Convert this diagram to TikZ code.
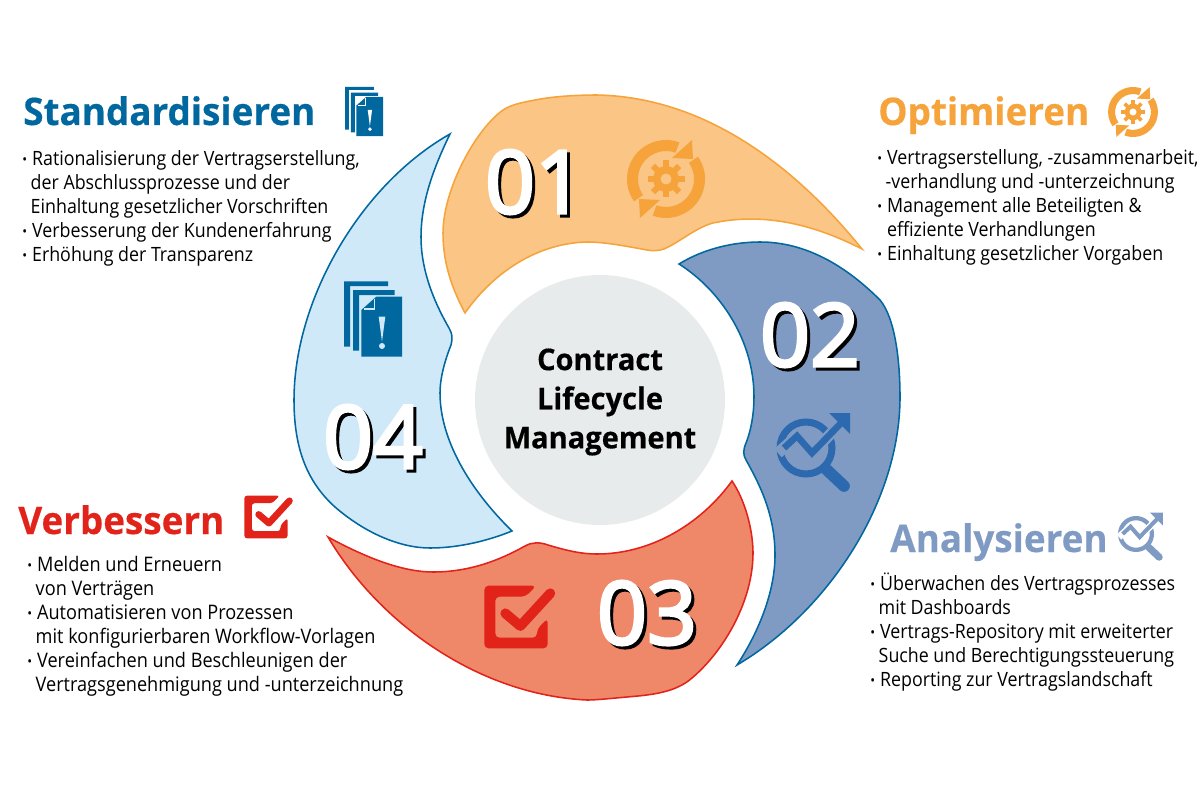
\documentclass[tikz,border=0pt]{standalone}
\usepackage{fontspec}
\setmainfont[FakeStretch=0.905]{Open Sans}
\newfontfamily\headfont[FakeStretch=0.97,FakeBold=0.4]{Open Sans}
\newfontfamily\numfont[FakeBold=3.5]{Open Sans}
\usetikzlibrary{calc}

\definecolor{optfill}{HTML}{FBC585}
\definecolor{optline}{HTML}{F5A33A}
\definecolor{anafill}{HTML}{7F9BC4}
\definecolor{analine}{HTML}{00679F}
\definecolor{anaicon}{HTML}{2D69AE}
\definecolor{verfill}{HTML}{EF8769}
\definecolor{verline}{HTML}{E2231A}
\definecolor{stdfill}{HTML}{CFE9F9}
\definecolor{stdline}{HTML}{00679F}
\definecolor{hubfill}{HTML}{E8EBEB}

\newcommand{\bul}{\makebox[7pt][l]{\raisebox{0.05em}{\fontsize{10}{10}\selectfont •}}}
\newcommand{\ind}[1]{\hspace*{#1pt}}

\tikzset{
	leaf/.style={line width=1.1pt,miter limit=12},
	listtext/.style={anchor=north west,inner sep=0pt,align=left,text=black,font=\fontsize{14}{17.07}\selectfont},
	headtext/.style={anchor=base west,inner sep=0pt,font=\fontsize{27}{30}\selectfont\headfont\bfseries},
	numface/.style={inner sep=0pt,text=white,font=\fontsize{62}{62}\selectfont\numfont},
	numshadow/.style={inner sep=0pt,text=black,font=\fontsize{62}{62}\selectfont\numfont},
	pics/gearcycle/.style n args={3}{code={
		\begin{scope}[scale=#3]
		\foreach \r in {0,180} {
			\fill[#1,rotate=\r] (145:39) arc[start angle=145,end angle=290,radius=39]
				-- (290:28) arc[start angle=290,end angle=145,radius=28] -- cycle;
			\fill[#1,rotate=\r] (26,-39) -- (27,-20) -- (6,-21) -- cycle;
		}
		\foreach \r in {0,45,...,315} {
			\fill[#1,rotate=\r] (-3,-18.5) rectangle (3,-11);
		}
		\fill[#1] (0,0) circle (13);
		\fill[#2] (0,0) circle (5.5);
		\end{scope}
	}},
	pics/lensicon/.style n args={3}{code={
		\begin{scope}[scale=#3]
		\draw[#1,line width=#3*5pt] (0,0) circle (26);
		\draw[#1,line width=#3*8.3pt,line cap=round] (21,22) -- (38,38);
		\draw[#2,line width=#3*8pt] (-28,5) -- (-9,-12) -- (6,5) -- (38,-28);
		\draw[#1,line width=#3*4.7pt] (-22,0) -- (-9,-12) -- (6,5) -- (38,-28);
		\fill[#1] (23,-35) -- (44,-35) -- (44,-14) -- cycle;
		\end{scope}
	}},
	pics/docicon/.style n args={3}{code={
		\begin{scope}[scale=#3]
		\fill[#1] (-29,-37.7) -- (15,-37.7) -- (15,-33) -- (-23,-33) -- (-23,27.7) -- (-29,27.7) -- cycle;
		\fill[#1] (-20,-29) -- (21.7,-29) -- (21.7,-24) -- (-14,-24) -- (-14,31.7) -- (-20,31.7) -- cycle;
		\fill[#1] (-11.7,-9) -- (3.3,-22.3) -- (29,-22.3) -- (29,37.7) -- (-11.7,37.7) -- cycle;
		\draw[#2,line width=#3*0.9pt] (-9.5,-10) -- (1.7,-10) -- (1.7,-20.5);
		\fill[#2] (5.7,-2.3) -- (12.3,-2.3) -- (9,22.7) -- cycle;
		\fill[#2] (9,27) circle (3);
		\end{scope}
	}},
	pics/checkicon/.style n args={2}{code={
		\begin{scope}[scale=#2]
		\fill[#1,rounded corners=#2*3pt] (20.3,-31.3) -- (-31.7,-31.3) -- (-31.7,31.3) -- (31.7,31.3) -- (31.7,1.3)
			-- (21,12.3) -- (21,20.7) -- (-20.7,20.7) -- (-20.7,-20.3) -- (9.3,-20.3) -- cycle;
		\draw[#1,line width=#2*7pt,line cap=round,line join=round] (-10.7,-3.7) -- (4.3,9) -- (34.3,-23.7);
		\end{scope}
	}},
}

\begin{document}
\begin{tikzpicture}[x=0.025cm,y=-0.025cm]

\useasboundingbox (0,0) rectangle (1200,800);

% the four leaves
\draw[leaf,draw=optline,fill=optfill] (465,313)
	.. controls (450,285) and (443,260) .. (443,233)
	.. controls (443,190) and (475,130) .. (503,110)
	.. controls (512,104) and (525,102) .. (535,100)
	.. controls (555,96) and (580,95) .. (597,95)
	.. controls (700,97) and (790,160) .. (862,249)
	.. controls (815,225) and (765,212) .. (713,223)
	.. controls (695,228) and (680,242) .. (664,249)
	.. controls (658,251) and (652,251) .. (647,250)
	.. controls (625,246) and (605,242) .. (587,242)
	.. controls (540,243) and (495,270) .. (465,313) -- cycle;
\draw[leaf,draw=analine,fill=anafill] (679,264)
	.. controls (705,248) and (735,242) .. (760,242)
	.. controls (805,242) and (845,265) .. (880,300)
	.. controls (895,318) and (900,360) .. (900,397)
	.. controls (900,500) and (830,610) .. (737,665)
	.. controls (760,630) and (775,590) .. (775,555)
	.. controls (775,515) and (760,485) .. (746,460)
	.. controls (743,455) and (743,450) .. (746,443)
	.. controls (752,428) and (754,410) .. (754,397)
	.. controls (754,340) and (720,290) .. (679,264) -- cycle;
\draw[leaf,draw=verline,fill=verfill] (732,481)
	.. controls (745,500) and (753,530) .. (753,553)
	.. controls (753,600) and (725,650) .. (692,678)
	.. controls (675,693) and (650,695) .. (627,697)
	.. controls (605,699) and (595,700) .. (587,700)
	.. controls (480,695) and (380,625) .. (328,537)
	.. controls (370,560) and (405,572) .. (433,572)
	.. controls (470,572) and (500,560) .. (525,546)
	.. controls (532,542) and (540,542) .. (548,545)
	.. controls (565,550) and (580,554) .. (597,554)
	.. controls (650,554) and (700,525) .. (732,481) -- cycle;
\draw[leaf,draw=stdline,fill=stdfill] (450,134)
	.. controls (360,185) and (294,300) .. (294,400)
	.. controls (294,445) and (305,480) .. (335,507)
	.. controls (365,533) and (400,548) .. (430,548)
	.. controls (460,548) and (490,540) .. (512,531)
	.. controls (470,490) and (440,440) .. (440,393)
	.. controls (440,375) and (447,355) .. (451,345)
	.. controls (453,338) and (452,333) .. (449,328)
	.. controls (430,295) and (421,265) .. (421,237)
	.. controls (421,200) and (435,165) .. (450,134) -- cycle;

% hub
\node[circle,fill=hubfill,minimum size=250*0.025cm,inner sep=0pt] (hub) at (600,400) {};
\node[align=center,inner sep=0pt,font=\fontsize{21.3}{27.8}\selectfont\headfont\bfseries] (hubtext) at (600,402) {Contract\\Lifecycle\\Management};

% numbers
\foreach \txt/\x/\y in {01/535/182,02/810/335,03/647/613,04/373/437} {
	\node[numshadow] (s\txt) at (\x+3,\y+3) {\txt};
	\node[numface] (n\txt) at (\x,\y) {\txt};
}

% icons in the leaves
\pic at (666,179) {gearcycle={optline}{optfill}{1}};
\pic at (806,448) {lensicon={anaicon}{anafill}{1}};
\pic at (516,617) {checkicon={verline}{1}};
\pic at (373,319) {docicon={stdline}{stdfill}{1}};

% headings
\node[headtext,text=stdline] (stdhead) at (23,125) {Standardisieren};
\node[headtext,text=optline] (opthead) at (878,125) {Optimieren};
\node[headtext,text=anafill] (anahead) at (890,552) {Analysieren};
\node[headtext,text=verline] (verhead) at (18,534) {Verbessern};

% icons at the headings
\pic at (364,111.5) {docicon={stdline}{white}{0.655}};
\pic at (1133,112) {gearcycle={optline}{white}{0.64}};
\pic at (1136,534) {lensicon={anafill}{white}{0.61}};
\pic at (266,517) {checkicon={verline}{0.683}};

% lists
\node[listtext] (stdlist) at (22,150) {\bul Rationalisierung der Vertragserstellung,\\
	\ind{6}der Abschlussprozesse und der\\
	\ind{6}Einhaltung gesetzlicher Vorschriften\\
	\bul Verbesserung der Kundenerfahrung\\
	\bul Erhöhung der Transparenz};
\node[listtext] (optlist) at (877,149.5) {\bul Vertragserstellung, -zusammenarbeit,\\
	\ind{6}-verhandlung und -unterzeichnung\\
	\bul Management alle Beteiligten \&\\
	\ind{7}effiziente Verhandlungen\\
	\bul Einhaltung gesetzlicher Vorgaben};
\node[listtext] (analist) at (870,573) {\bul Überwachen des Vertragsprozesses\\
	\ind{6}mit Dashboards\\
	\bul Vertrags-Repository mit erweiterter\\
	\ind{6}Suche und Berechtigungssteuerung\\
	\bul Reporting zur Vertragslandschaft};
\node[listtext,font=\fontsize{14.25}{17.07}\selectfont] (verlist) at (27,556) {\bul Melden und Erneuern\\
	\ind{6}von Verträgen\\
	\bul Automatisieren von Prozessen\\
	\ind{6}mit konfigurierbaren Workflow-Vorlagen\\
	\bul Vereinfachen und Beschleunigen der\\
	\ind{6}Vertragsgenehmigung und -unterzeichnung};

\end{tikzpicture}
\end{document}
